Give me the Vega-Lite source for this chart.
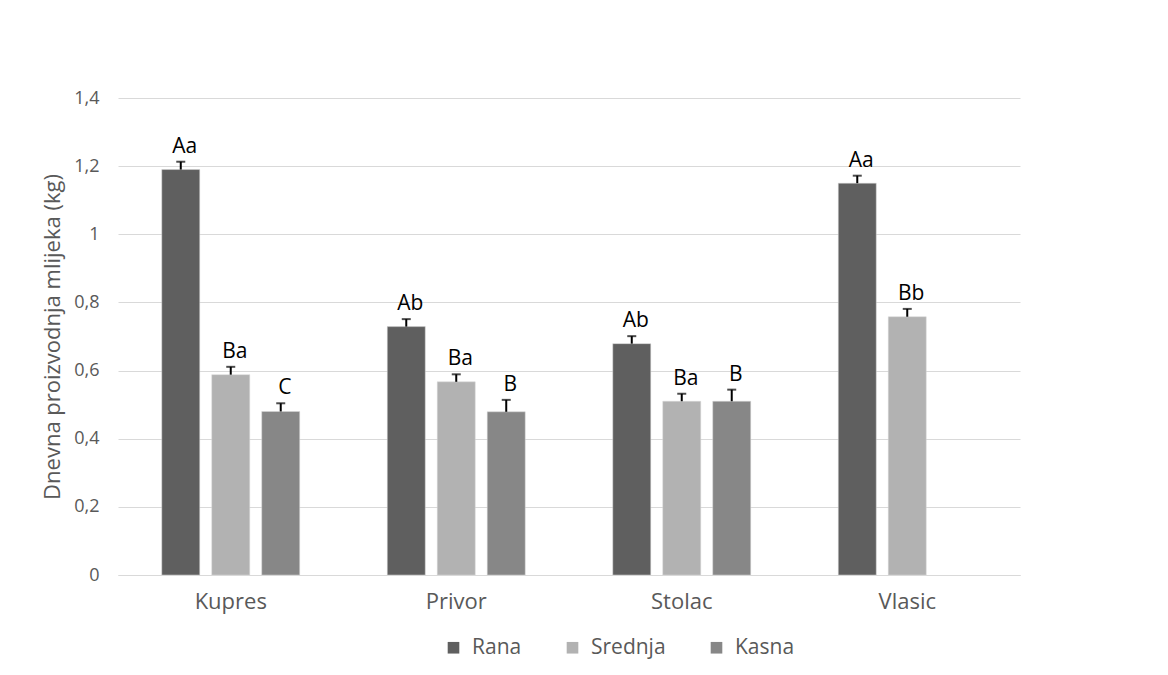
{
  "$schema": "https://vega.github.io/schema/vega-lite/v6.json",
  "autosize": {"type": "none"},
  "width": 902,
  "height": 477,
  "padding": {"left": 118, "top": 98, "right": 148, "bottom": 100},
  "background": "white",
  "config": {
    "view": {"stroke": null},
    "font": "Open Sans",
    "locale": {"number": {"decimal": ",", "thousands": ".", "grouping": [3], "currency": ["", " €"]}}
  },
  "data": {
    "values": [
      {"site": "Kupres", "period": "Rana", "value": 1.19, "upper": 1.213, "label": "Aa"},
      {"site": "Kupres", "period": "Srednja", "value": 0.588, "upper": 0.611, "label": "Ba"},
      {"site": "Kupres", "period": "Kasna", "value": 0.48, "upper": 0.504, "label": "C"},
      {"site": "Privor", "period": "Rana", "value": 0.729, "upper": 0.751, "label": "Ab"},
      {"site": "Privor", "period": "Srednja", "value": 0.567, "upper": 0.589, "label": "Ba"},
      {"site": "Privor", "period": "Kasna", "value": 0.479, "upper": 0.514, "label": "B"},
      {"site": "Stolac", "period": "Rana", "value": 0.679, "upper": 0.701, "label": "Ab"},
      {"site": "Stolac", "period": "Srednja", "value": 0.51, "upper": 0.532, "label": "Ba"},
      {"site": "Stolac", "period": "Kasna", "value": 0.51, "upper": 0.544, "label": "B"},
      {"site": "Vlasic", "period": "Rana", "value": 1.15, "upper": 1.172, "label": "Aa"},
      {"site": "Vlasic", "period": "Srednja", "value": 0.758, "upper": 0.781, "label": "Bb"}
    ]
  },
  "encoding": {
    "x": {
      "field": "site", "type": "nominal", "sort": ["Kupres", "Privor", "Stolac", "Vlasic"],
      "scale": {"paddingInner": 0.335, "paddingOuter": 0.1675},
      "axis": {
        "title": null, "labelAngle": 0, "ticks": false, "domain": true, "domainColor": "#d9d9d9", "domainWidth": 1,
        "labelColor": "#595959", "labelFontSize": 22, "labelPadding": 16, "labelFont": "Open Sans"
      }
    },
    "xOffset": {
      "field": "period", "type": "nominal",
      "scale": {"domain": ["Rana", "Srednja", "Kasna"], "paddingInner": 0.24, "paddingOuter": 0.12}
    }
  },
  "layer": [
    {
      "mark": {"type": "bar", "stroke": "#d9d9d9", "strokeWidth": 0.5},
      "encoding": {
        "y": {
          "field": "value", "type": "quantitative",
          "scale": {"domain": [0, 1.4]},
          "axis": {
            "title": "Dnevna proizvodnja mlijeka (kg)", "titleColor": "#595959", "titleFontSize": 22, "titleFontWeight": "normal",
            "titleFont": "Open Sans", "titlePadding": 9,
            "values": [0, 0.2, 0.4, 0.6, 0.8, 1, 1.2, 1.4], "format": ".1~f",
            "labelColor": "#595959", "labelFontSize": 18, "labelPadding": 19, "ticks": false, "domain": false,
            "grid": true, "gridColor": "#d9d9d9", "gridWidth": 1
          }
        },
        "color": {
          "field": "period", "type": "nominal",
          "scale": {"domain": ["Rana", "Srednja", "Kasna"], "range": ["#5f5f5f", "#b2b2b2", "#878787"]},
          "legend": {
            "title": null, "orient": "none", "direction": "horizontal", "legendX": 325, "legendY": 539,
            "symbolType": "square", "symbolSize": 135, "symbolStrokeWidth": 0,
            "labelFontSize": 21, "labelColor": "#595959", "labelOffset": 8, "columnPadding": 40
          }
        }
      }
    },
    {
      "mark": {"type": "rule", "color": "black", "strokeWidth": 2},
      "encoding": {"y": {"field": "value", "type": "quantitative"}, "y2": {"field": "upper"}}
    },
    {
      "mark": {"type": "tick", "color": "black", "size": 9, "thickness": 2},
      "encoding": {"y": {"field": "upper", "type": "quantitative"}}
    },
    {
      "mark": {"type": "text", "color": "black", "fontSize": 21, "baseline": "alphabetic", "dy": -9, "dx": 4, "font": "Open Sans"},
      "encoding": {"y": {"field": "upper", "type": "quantitative"}, "text": {"field": "label"}}
    }
  ]
}
